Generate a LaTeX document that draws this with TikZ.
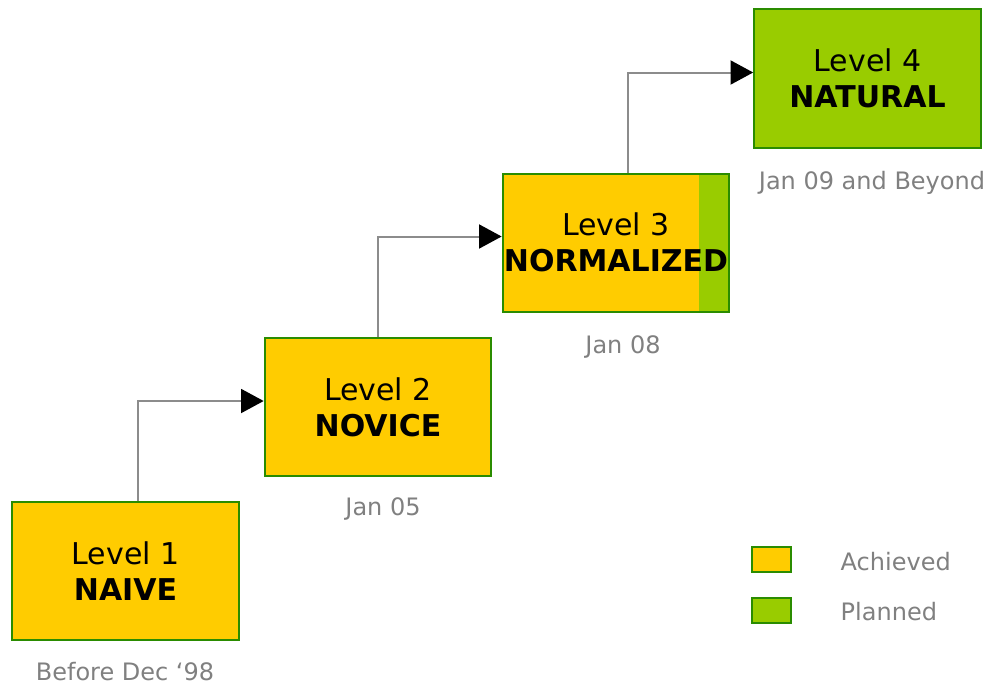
\documentclass[tikz,border=0pt]{standalone}
\usepackage{fontspec}
\setmainfont{DejaVu Sans}
\usepackage{xcolor}
\usetikzlibrary{arrows.meta, positioning, calc}
\definecolor{achieved}{HTML}{FFCC00}
\definecolor{planned}{HTML}{99CC00}
\definecolor{rim}{HTML}{2A8C00}
\definecolor{datecol}{HTML}{808080}
\definecolor{linkcol}{HTML}{8C8C8C}

\begin{document}
\begin{tikzpicture}[x=0.75pt, y=-0.75pt,
    lvl/.style={draw=rim, line width=1.5pt, minimum width=170pt, minimum height=103.5pt, inner sep=0pt, align=center, font=\fontsize{22.5}{27}\selectfont},
    done/.style={lvl, fill=achieved},
    todo/.style={lvl, fill=planned},
    part/.style={done, path picture={\fill[planned] ([xshift=-22.5pt]path picture bounding box.north east) rectangle (path picture bounding box.south east);}},
    when/.style={text=datecol, font=\fontsize{18}{22}\selectfont},
    key/.style={draw=rim, line width=1.5pt, minimum width=29pt, minimum height=19pt, inner sep=0pt},
    link/.style={draw=linkcol, line width=1.5pt, -{Triangle[length=17pt, width=18pt, color=black]}}]
    \useasboundingbox (0,0) rectangle (987,685);
    % levels
    \node[done] (l1) at (125.5,571) {Level 1\\\textbf{NAIVE}};
    \node[done] (l2) at (378,407) {Level 2\\\textbf{NOVICE}};
    \node[part] (l3) at (616,242.5) {Level 3\\\textbf{NORMALIZED}};
    \node[todo] (l4) at (867.5,78.5) {Level 4\\\textbf{NATURAL}};
    % dates
    \node[when] (d1) at (125,672) {Before Dec ‘98};
    \node[when] (d2) at (383,509) {Jan 05};
    \node[when] (d3) at (623,347) {Jan 08};
    \node[when] (d4) at (872,183) {Jan 09 and Beyond};
    % steps
    \draw[link] ([xshift=9pt]l1.north) |- ([yshift=4.5pt]l2.west);
    \draw[link] (l2.north) |- ([yshift=4.5pt]l3.west);
    \draw[link] ([xshift=9pt]l3.north) |- ([yshift=4.5pt]l4.west);
    % legend
    \node[key, fill=achieved] (k1) at (771.5,559.5) {};
    \node[key, fill=planned] (k2) at (771.5,610.5) {};
    \node[when, anchor=west] (t1) at (836,562) {Achieved};
    \node[when, anchor=west] (t2) at (836,612) {Planned};
\end{tikzpicture}
\end{document}
